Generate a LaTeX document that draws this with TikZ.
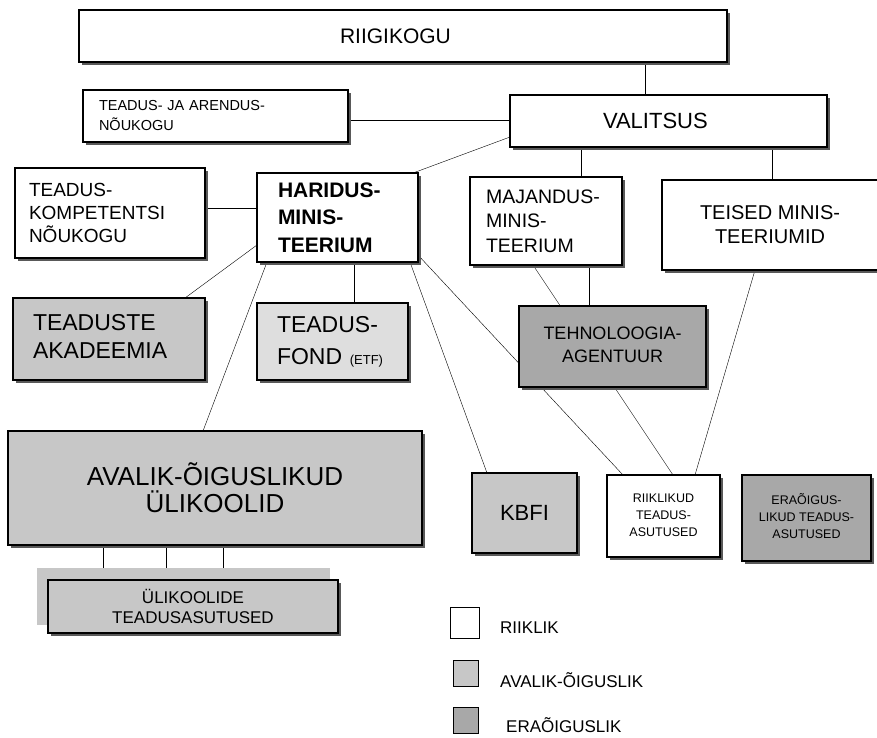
\documentclass[tikz,border=0pt]{standalone}
\usepackage{fontspec}
\setmainfont{Liberation Sans}
\usetikzlibrary{shadows,backgrounds}
\definecolor{avc}{gray}{0.78}
\definecolor{fondc}{gray}{0.87}
\definecolor{erac}{gray}{0.66}
\newcommand\myfs[2]{\fontsize{#1}{#2}\selectfont}
\begin{document}
\begin{tikzpicture}[x=1pt,y=-1pt,
  bx/.style={draw, line width=1.2pt, inner sep=0pt, outer sep=0pt, anchor=north west,
    drop shadow={shadow xshift=2.5pt, shadow yshift=-2.5pt, fill=black!65, opacity=1}},
  fwhite/.style={bx, fill=white},
  favalik/.style={bx, fill=avc},
  ffond/.style={bx, fill=fondc},
  fera/.style={bx, fill=erac},
  lg/.style={draw, line width=0.8pt, inner sep=0pt, outer sep=0pt, anchor=north west},
  lgtext/.style={anchor=base west, inner sep=0pt, font=\myfs{17}{20}},
  conn/.style={line width=1pt}]
\useasboundingbox (0,0) rectangle (877,737);

\node[fwhite, minimum height=52pt, text width=126pt, inner xsep=261pt, align=left, font=\myfs{21}{25}] (rk) at (79,10) {RIIGIKOGU};
\node[fwhite, minimum height=52pt, text width=233pt, inner xsep=16pt, align=left, font=\myfs{14.5}{20}] (tja) at (83,90) {TEADUS- JA ARENDUS-\\NÕUKOGU};
\node[fwhite, minimum height=52pt, text width=131pt, inner xsep=93pt, align=left, font=\myfs{22}{26}] (val) at (510,95) {VALITSUS};
\node[fwhite, minimum height=90pt, text width=162pt, inner xsep=14pt, align=left, font=\myfs{19}{23}] (tkn) at (15,168) {TEADUS-\\KOMPETENTSI\\NÕUKOGU};
\node[fwhite, minimum height=89pt, text width=119pt, inner xsep=21pt, align=left, font=\bfseries\myfs{21}{27.5}] (hm) at (257,173) {HARIDUS-\\MINIS-\\TEERIUM};
\node[fwhite, minimum height=88pt, text width=120pt, inner xsep=16pt, align=left, font=\myfs{19.5}{24.5}] (mm) at (470,177) {MAJANDUS-\\MINIS-\\TEERIUM};
\node[fwhite, minimum width=216pt, minimum height=90pt, align=center, font=\myfs{20}{24}] (tm) at (662,180) {TEISED MINIS-\\TEERIUMID};
\node[favalik, minimum height=82pt, text width=152pt, inner xsep=20pt, align=left, font=\myfs{23}{28}] (ta) at (13,298) {\raisebox{5pt}{\begin{tabular}{@{}l@{}}TEADUSTE\\AKADEEMIA\end{tabular}}};
\node[ffond, minimum height=77pt, text width=111pt, inner xsep=20pt, align=left, font=\myfs{23}{32}] (tf) at (257,303) {TEADUS-\\FOND {\myfs{13}{13}(ETF)}};
\node[fera, minimum width=187pt, minimum height=81pt, font=\myfs{18}{23}] (teh) at (519,306) {\raisebox{9pt}{\begin{tabular}{@{}c@{}}TEHNOLOOGIA-\\AGENTUUR\end{tabular}}};
\node[favalik, minimum width=414pt, minimum height=114pt, align=center, font=\myfs{26}{27}] (av) at (8,431) {AVALIK-ÕIGUSLIKUD\\ÜLIKOOLID};
\node[favalik, minimum width=105pt, minimum height=80pt, font=\myfs{22}{26}] (kb) at (472,473) {KBFI};
\node[fwhite, minimum width=113pt, minimum height=82pt, font=\myfs{12.5}{17}] (rta) at (607,475) {\raisebox{5pt}{\begin{tabular}{@{}c@{}}RIIKLIKUD\\TEADUS-\\ASUTUSED\end{tabular}}};
\node[fera, minimum width=129pt, minimum height=86pt, font=\myfs{12.5}{17}] (era) at (742,475) {\raisebox{7pt}{\begin{tabular}{@{}c@{}}ERAÕIGUS-\\LIKUD TEADUS-\\ASUTUSED\end{tabular}}};
\fill[black!22] (37,568) rectangle (330,625);
\node[favalik, minimum width=290pt, minimum height=53pt, align=center, font=\myfs{17}{20}] (ut) at (48,580) {ÜLIKOOLIDE\\TEADUSASUTUSED};

% legend
\node[lg, fill=white, minimum width=29pt, minimum height=31pt] (l1) at (450,607) {};
\node[lg, fill=avc, minimum width=25pt, minimum height=26pt] (l2) at (453,660) {};
\node[lg, fill=erac, minimum width=25pt, minimum height=26pt] (l3) at (453,707) {};
\node[lgtext] (t1) at (500,633) {RIIKLIK};
\node[lgtext] (t2) at (500,687) {AVALIK-ÕIGUSLIK};
\node[lgtext] (t3) at (506,732) {ERAÕIGUSLIK};

\begin{scope}[on background layer, conn]
\draw ([xshift=566pt]rk.south west) -- ([xshift=135pt]val.north west);
\draw ([yshift=-30pt]tja.north east) -- ([yshift=-25pt]val.north west);
\draw ([yshift=-42pt]val.north west) -- ([xshift=-5pt]hm.north east);
\draw ([xshift=71pt]val.south west) -- ([xshift=111pt]mm.north west);
\draw ([xshift=262pt]val.south west) -- ([xshift=110pt]tm.north west);
\draw ([yshift=-40pt]tkn.north east) -- ([yshift=-35pt]hm.north west);
\draw ([yshift=-72pt]hm.north west) -- ([xshift=172pt]ta.north west);
\draw ([xshift=10pt]hm.south west) -- ([xshift=195pt]av.north west);
\draw ([xshift=97pt]hm.south west) -- ([xshift=97pt]tf.north west);
\draw ([xshift=153pt]hm.south west) -- ([xshift=15pt]kb.north west);
\draw ([yshift=-82pt]hm.north east) -- ([xshift=16pt]rta.north west);
\draw ([xshift=63pt]mm.south west) -- ([xshift=66pt]rta.north west);
\draw ([xshift=119pt]mm.south west) -- ([xshift=70pt]teh.north west);
\draw ([xshift=93pt]tm.south west) -- ([xshift=88pt]rta.north west);
\draw ([xshift=95pt]av.south west) -- ([xshift=55pt]ut.north west);
\draw ([xshift=158pt]av.south west) -- ([xshift=118pt]ut.north west);
\draw ([xshift=215pt]av.south west) -- ([xshift=175pt]ut.north west);
\end{scope}
\end{tikzpicture}
\end{document}
